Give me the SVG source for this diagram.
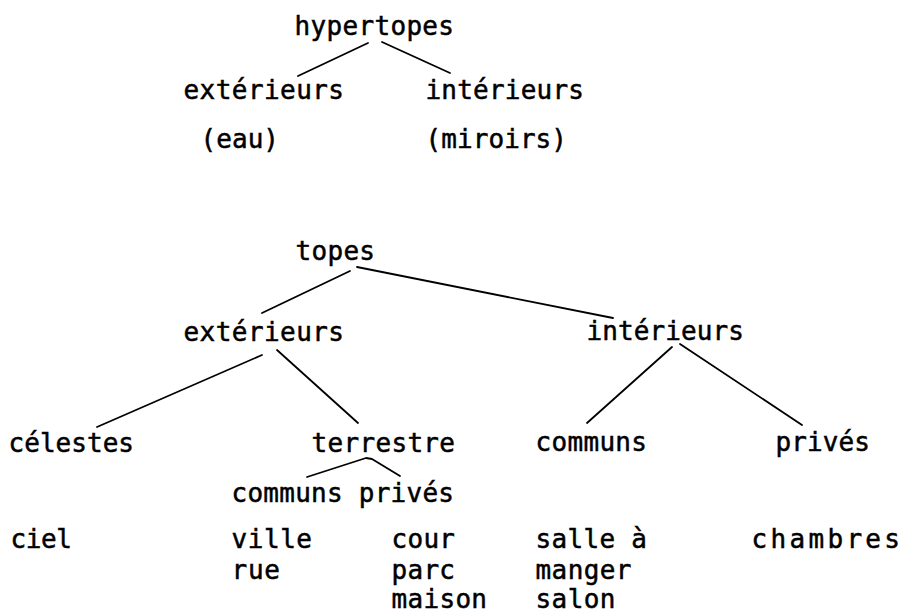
<svg xmlns="http://www.w3.org/2000/svg" width="907" height="615" viewBox="0 0 907 615">
<style>
text{font-family:"DejaVu Sans Mono","Liberation Mono",monospace;font-size:26px;fill:#000;stroke:#000;stroke-width:0.5}
.c line,.c polyline{stroke:#000;stroke-width:1.8;fill:none;stroke-linecap:round;stroke-linejoin:round}
</style>
<rect width="907" height="615" fill="#fff"/>
<g class="c" id="connectors">
<line x1="368" y1="43" x2="298" y2="76"/>
<line x1="382" y1="42" x2="450" y2="73"/>
<line x1="350" y1="271" x2="262" y2="313"/>
<line x1="357" y1="267" x2="613" y2="318"/>
<line x1="262" y1="355" x2="97" y2="427"/>
<line x1="277" y1="350" x2="358" y2="423"/>
<line x1="672" y1="347" x2="587" y2="423"/>
<line x1="680" y1="344" x2="802" y2="425"/>
<polyline points="307,477 366,458 372,459 400,476"/>
</g>
<g id="hypertopes"><text x="294.5" y="35" textLength="159.5" lengthAdjust="spacing">hypertopes</text></g>
<g id="hyper-exterieurs"><text x="183.5" y="99" textLength="160.5" lengthAdjust="spacing">extérieurs</text></g>
<g id="hyper-interieurs"><text x="425.5" y="99" textLength="158.5" lengthAdjust="spacing">intérieurs</text></g>
<g id="eau"><text x="200.5" y="148" textLength="78.5" lengthAdjust="spacing">(eau)</text></g>
<g id="miroirs"><text x="425.5" y="148" textLength="141.5" lengthAdjust="spacing">(miroirs)</text></g>
<g id="topes"><text x="295.5" y="260" textLength="79.5" lengthAdjust="spacing">topes</text></g>
<g id="exterieurs"><text x="183.5" y="341" textLength="160.5" lengthAdjust="spacing">extérieurs</text></g>
<g id="interieurs"><text x="586.5" y="340" textLength="157.5" lengthAdjust="spacing">intérieurs</text></g>
<g id="celestes"><text x="8.5" y="452" textLength="125.5" lengthAdjust="spacing">célestes</text></g>
<g id="terrestre"><text x="311.5" y="452" textLength="143.5" lengthAdjust="spacing">terrestre</text></g>
<g id="communs"><text x="535.5" y="451" textLength="111.5" lengthAdjust="spacing">communs</text></g>
<g id="prives"><text x="775.5" y="451" textLength="94.5" lengthAdjust="spacing">privés</text></g>
<g id="terrestre-communs-prives"><text x="231.5" y="502" textLength="222.5" lengthAdjust="spacing">communs privés</text></g>
<g id="ciel"><text x="10.5" y="548" textLength="61.5" lengthAdjust="spacing">ciel</text></g>
<g id="terrestre-communs-list"><text x="231.5" y="548" textLength="80.5" lengthAdjust="spacing">ville</text><text x="231.5" y="579" textLength="48.5" lengthAdjust="spacing">rue</text></g>
<g id="terrestre-prives-list"><text x="391.5" y="548" textLength="63.5" lengthAdjust="spacing">cour</text><text x="391.5" y="579" textLength="63.5" lengthAdjust="spacing">parc</text><text x="391.5" y="608" textLength="95.5" lengthAdjust="spacing">maison</text></g>
<g id="communs-list"><text x="535.5" y="548" textLength="111.5" lengthAdjust="spacing">salle à</text><text x="535.5" y="579" textLength="96" lengthAdjust="spacing">manger</text><text x="535.5" y="608" textLength="80" lengthAdjust="spacing">salon</text></g>
<g id="chambres"><text x="751.5" y="548" textLength="148.5" lengthAdjust="spacing">chambres</text></g>
</svg>
